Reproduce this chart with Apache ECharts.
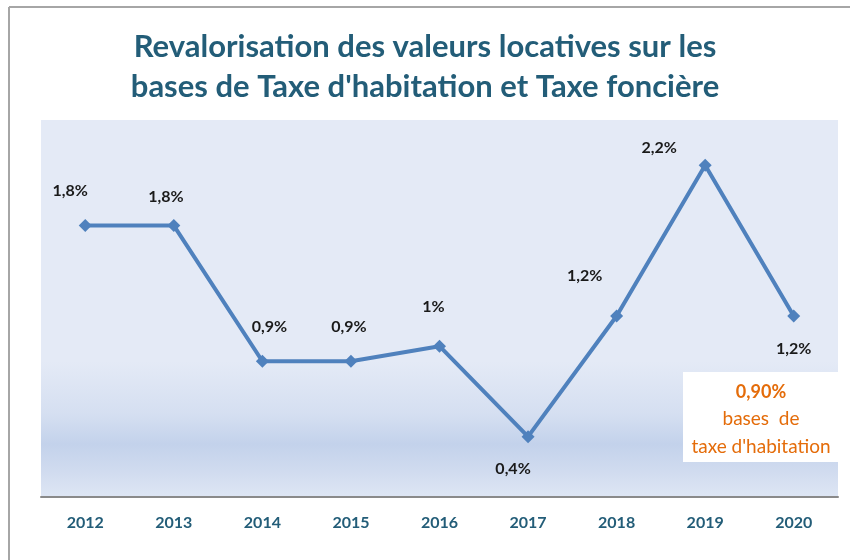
<!DOCTYPE html>
<html>
<head>
<meta charset="utf-8">
<script src="https://cdn.jsdelivr.net/npm/echarts@6/dist/echarts.min.js"></script>
<style>
html,body{margin:0;padding:0;background:#fff;}
#chart{width:850px;height:560px;}
</style>
</head>
<body>
<div id="chart"></div>
<script>
// ---- data ----
const years = ['2012','2013','2014','2015','2016','2017','2018','2019','2020'];
const revalorisation = [1.8, 1.8, 0.9, 0.9, 1.0, 0.4, 1.2, 2.2, 1.2];
const noteValue = '0,90%';
const noteLines = ['bases  de', "taxe d'habitation"];
const titleLines = ['Revalorisation des valeurs locatives sur les', "bases de Taxe d'habitation et Taxe foncière"];

// ---- label placement (style only) ----
const labelOffsets = [[-15,-35],[-8,-29],[7,-34],[-2,-34],[-6,-39],[-15,32],[-32,-40],[-46,-17],[0,33]];

const fmt = v => String(v).replace('.', ',') + '%';
const FONT = 'Lato, "Open Sans", sans-serif';

const chart = echarts.init(document.getElementById('chart'));
chart.setOption({
  animation: false,
  backgroundColor: '#ffffff',
  title: {
    text: titleLines.join('\n'),
    left: 'center',
    top: 22,
    textStyle: {
      fontFamily: FONT, fontSize: 31, fontWeight: 'bold', color: '#235d78', lineHeight: 40
    }
  },
  grid: {
    left: 41, right: 12, top: 120, bottom: 63,
    show: true, borderWidth: 0,
    backgroundColor: {
      type: 'linear', x: 0, y: 0, x2: 0, y2: 1,
      colorStops: [
        {offset: 0, color: '#e4eaf6'},
        {offset: 0.64, color: '#e4eaf6'},
        {offset: 0.78, color: '#d5dff1'},
        {offset: 0.86, color: '#c3d2eb'},
        {offset: 0.93, color: '#d0dbef'},
        {offset: 1, color: '#dee6f4'}
      ]
    }
  },
  xAxis: {
    type: 'category',
    data: years,
    boundaryGap: true,
    axisLine: {show: true, lineStyle: {color: '#8a8a8a', width: 2}},
    axisTick: {show: false},
    axisLabel: {margin: 18, fontFamily: FONT, fontSize: 16, fontWeight: 'bold', color: '#235d78'},
    splitLine: {show: false}
  },
  yAxis: {
    type: 'value', min: 0, max: 2.5,
    show: false,
    splitLine: {show: false}
  },
  series: [{
    type: 'line',
    data: revalorisation.map((v, i) => ({
      value: v,
      label: {offset: labelOffsets[i]}
    })),
    symbol: 'diamond',
    symbolSize: 13,
    lineStyle: {color: '#4f81bd', width: 4},
    itemStyle: {color: '#4f81bd'},
    label: {
      show: true,
      position: 'inside',
      formatter: p => fmt(p.value),
      fontFamily: FONT, fontSize: 16, fontWeight: 'bold', color: '#1a1a1a'
    }
  }],
  graphic: [
    {type: 'line', shape: {x1: 9, y1: 7, x2: 850, y2: 7}, style: {stroke: '#a6a6a6', lineWidth: 2}, z: 10},
    {type: 'line', shape: {x1: 9, y1: 7, x2: 9, y2: 560}, style: {stroke: '#a6a6a6', lineWidth: 2}, z: 10},
    {type: 'rect', shape: {x: 683, y: 372, width: 155, height: 90}, style: {fill: '#ffffff'}, z: 10},
    {type: 'text', x: 761, y: 392, z: 11, style: {text: noteValue, textAlign: 'center', textVerticalAlign: 'middle',
      font: 'bold 18px Lato, sans-serif', fill: '#e46c0a'}},
    {type: 'text', x: 761, y: 419, z: 11, style: {text: noteLines[0], textAlign: 'center', textVerticalAlign: 'middle',
      font: '19px Lato, sans-serif', fill: '#e46c0a'}},
    {type: 'text', x: 761, y: 447, z: 11, style: {text: noteLines[1], textAlign: 'center', textVerticalAlign: 'middle',
      font: '19px Lato, sans-serif', fill: '#e46c0a'}}
  ]
});
</script>
</body>
</html>
